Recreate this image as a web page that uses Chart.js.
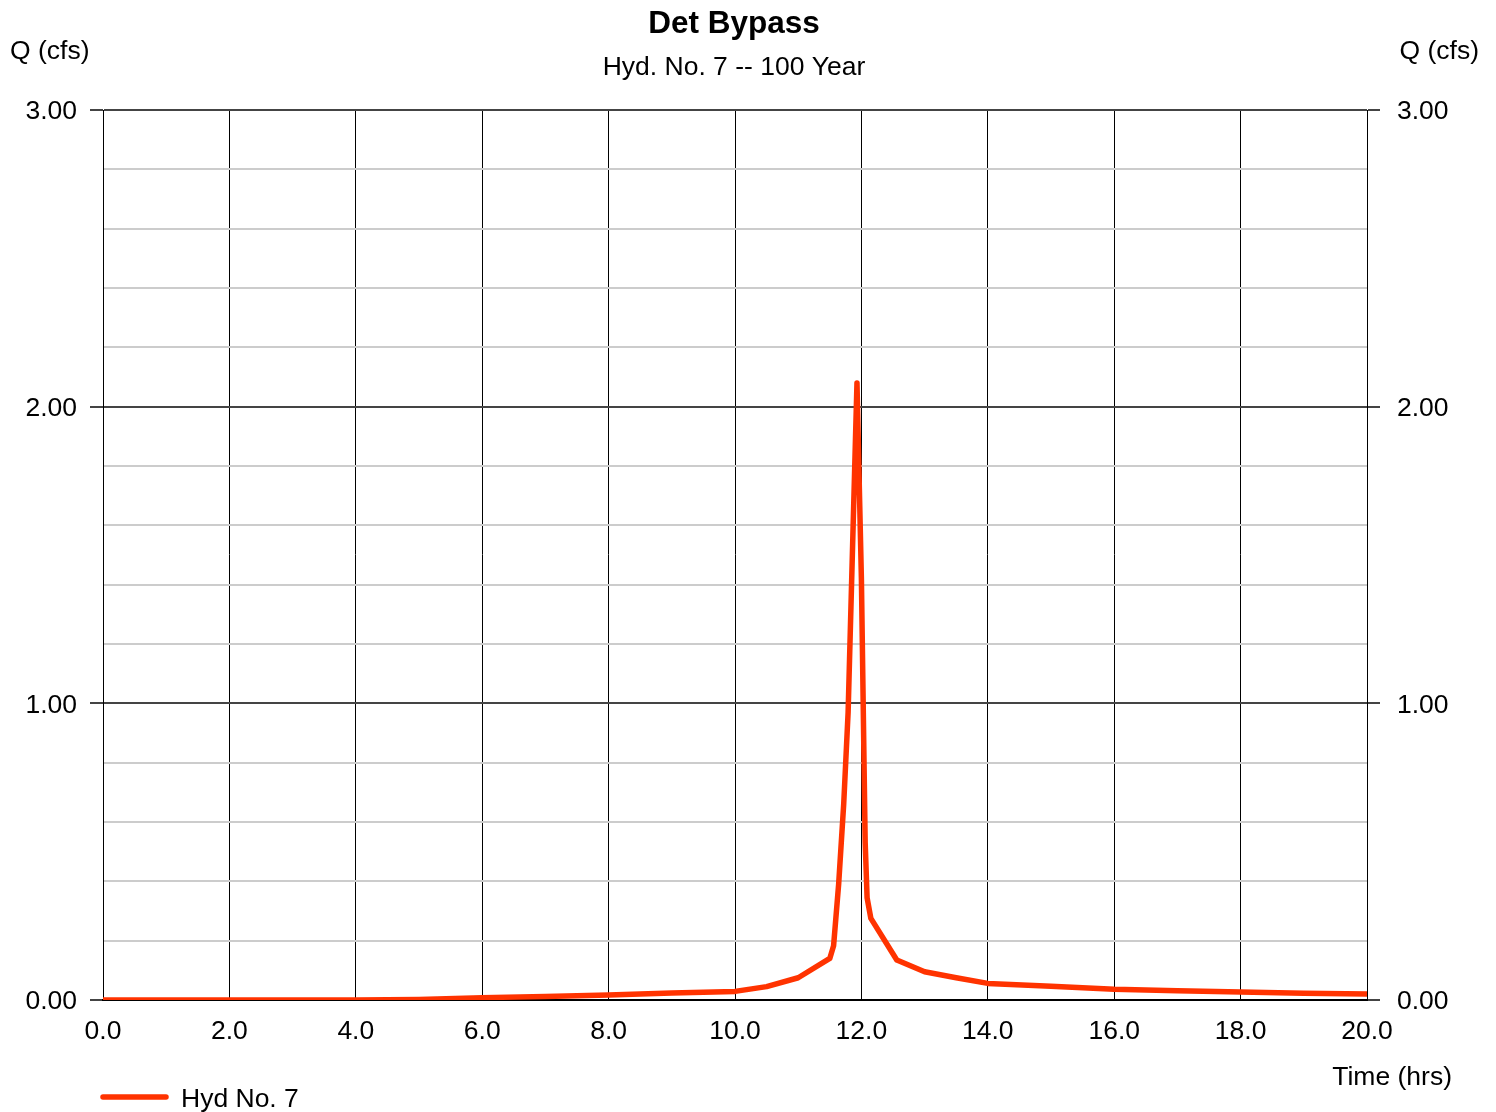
<!DOCTYPE html>
<html>
<head>
<meta charset="utf-8">
<title>Det Bypass</title>
<script src="https://cdn.jsdelivr.net/npm/chart.js@4.4.1/dist/chart.umd.min.js"></script>
<style>
  html, body { margin: 0; padding: 0; background: #fff; }
  #wrap { width: 1496px; height: 1112px; position: relative; }
</style>
</head>
<body>
<div id="wrap"><canvas id="hydroGraph" width="1496" height="1112"></canvas></div>
<script>
// Hydrograph data
const timeHrs = [0, 2, 4, 4.5, 5, 6, 7, 8, 9, 10, 10.5, 11, 11.5, 11.56, 11.64, 11.72, 11.79, 11.93,
    12, 12.06, 12.09, 12.15, 12.56, 13, 13.5, 14, 15, 16, 17, 18, 19, 20];
const flowCfs = [0, 0, 0, 0.001, 0.002, 0.008, 0.012, 0.017, 0.024, 0.029, 0.045, 0.075, 0.14, 0.183, 0.39,
    0.66, 0.97, 2.08, 1.42, 0.53, 0.345, 0.275, 0.135, 0.095, 0.075, 0.056, 0.046, 0.036, 0.031, 0.027,
    0.023, 0.020];
const seriesName = 'Hyd No. 7';
const chartTitle = 'Det Bypass';
const chartSubtitle = 'Hyd. No. 7 -- 100 Year';
const yAxisTitle = 'Q (cfs)';
const xAxisTitle = 'Time (hrs)';

const FONT = '"Liberation Sans", Arial, sans-serif';
const FONT_SIZE = 26.5;
const LINE_COLOR = '#ff3300';

function isMajor(v) {
    return Math.abs(v - Math.round(v)) < 1e-6;
}

// titles, axis names and legend
const textPlugin = {
    id: 'hydroText',
    afterDraw(chart) {
        const ctx = chart.ctx;
        ctx.save();
        ctx.fillStyle = '#000';
        ctx.textBaseline = 'middle';
        ctx.textAlign = 'center';
        ctx.font = 'bold 31.5px ' + FONT;
        ctx.fillText(chartTitle, 734, 24);
        ctx.font = FONT_SIZE + 'px ' + FONT;
        ctx.fillText(chartSubtitle, 734, 68);
        ctx.textAlign = 'left';
        ctx.fillText(yAxisTitle, 10, 52);
        ctx.textAlign = 'right';
        ctx.fillText(yAxisTitle, 1479, 52);
        ctx.fillText(xAxisTitle, 1452, 1078);

        // legend
        ctx.strokeStyle = LINE_COLOR;
        ctx.lineWidth = 5.5;
        ctx.lineCap = 'round';
        ctx.beginPath();
        ctx.moveTo(103, 1097);
        ctx.lineTo(166, 1097);
        ctx.stroke();
        ctx.textAlign = 'left';
        ctx.fillText(seriesName, 181, 1100);
        ctx.restore();
    }
};

function yTicks(pad) {
    return {
        color: '#000',
        font: { family: FONT, size: FONT_SIZE },
        padding: pad,
        labelOffset: 2,
        stepSize: 0.2,
        autoSkip: false,
        callback: (v) => isMajor(v) ? v.toFixed(2) : ''
    };
}

const chart = new Chart(document.getElementById('hydroGraph'), {
    type: 'scatter',
    data: {
        datasets: [{
            label: seriesName,
            data: timeHrs.map((t, i) => ({ x: t, y: flowCfs[i] })),
            showLine: true,
            borderColor: LINE_COLOR,
            borderWidth: 5.5,
            borderCapStyle: 'round',
            borderJoinStyle: 'round',
            pointRadius: 0,
            tension: 0,
            yAxisID: 'y'
        }]
    },
    options: {
        responsive: false,
        animation: false,
        devicePixelRatio: 1,
        layout: { padding: { top: 110, left: 0, right: 0, bottom: 0 } },
        plugins: {
            legend: { display: false },
            tooltip: { enabled: false }
        },
        scales: {
            x: {
                type: 'linear',
                min: 0,
                max: 20,
                border: { color: '#000', width: 2 },
                grid: { color: '#000', lineWidth: 1, drawTicks: false },
                ticks: {
                    stepSize: 2,
                    color: '#000',
                    font: { family: FONT, size: FONT_SIZE },
                    padding: 16,
                    maxRotation: 0,
                    callback: (v) => v.toFixed(1)
                },
                afterFit: (axis) => { axis.height = 112; }
            },
            y: {
                position: 'left',
                min: 0,
                max: 3,
                border: { color: '#000', width: 1 },
                grid: {
                    color: (c) => isMajor(c.tick.value) ? '#444' : '#cccccc',
                    lineWidth: 2,
                    tickLength: 13,
                    tickColor: (c) => isMajor(c.tick.value) ? '#444' : 'rgba(0,0,0,0)'
                },
                ticks: yTicks(13),
                afterFit: (axis) => { axis.width = 103; }
            },
            y2: {
                position: 'right',
                min: 0,
                max: 3,
                border: { color: '#000', width: 1 },
                grid: {
                    drawOnChartArea: false,
                    lineWidth: 2,
                    tickLength: 13,
                    tickColor: (c) => isMajor(c.tick.value) ? '#444' : 'rgba(0,0,0,0)'
                },
                ticks: yTicks(17),
                afterFit: (axis) => { axis.width = 129; }
            }
        }
    },
    plugins: [textPlugin]
});
</script>
</body>
</html>
